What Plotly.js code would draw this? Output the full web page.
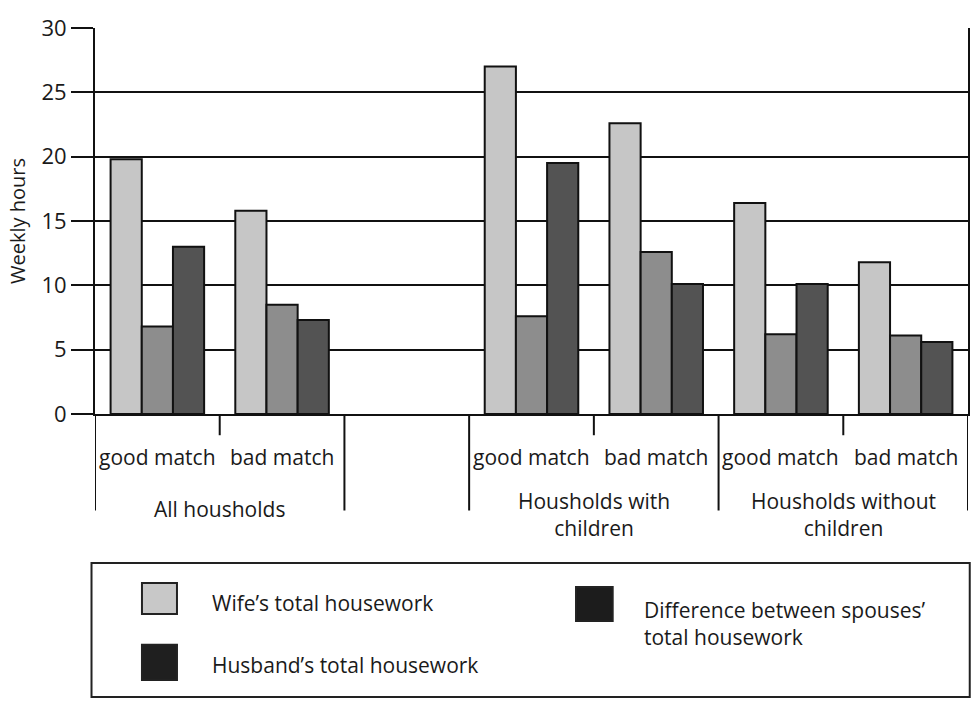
<!DOCTYPE html>
<html>
<head>
<meta charset="utf-8">
<script src="https://cdn.plot.ly/plotly-3.0.1.min.js"></script>
<style>
  html, body { margin: 0; padding: 0; background: #ffffff; }
  #chart { width: 974px; height: 710px; }
</style>
</head>
<body>
<div id="chart"></div>
<script>
// ---- data ----
const groups = ["All housholds", "Housholds with<br>children", "Housholds without<br>children"];
const matches = ["good match", "bad match"];
const seriesNames = ["Wife’s total housework", "Husband’s total housework", "Difference between spouses’<br>total housework"];
const wife = [19.8, 15.8, 27.0, 22.6, 16.4, 11.8];
const husband = [6.8, 8.5, 7.6, 12.6, 6.2, 6.1];
const difference = [13.0, 7.3, 19.5, 10.1, 10.1, 5.6];
const yTicks = [0, 5, 10, 15, 20, 25, 30];

// ---- build slot positions (one blank slot after the first group) ----
const xs = [];
const subLabels = [];
groups.forEach((g, gi) => {
  matches.forEach((m, si) => {
    xs.push(gi * 2 + si + (gi > 0 ? 1 : 0));
    subLabels.push(m);
  });
});
const groupCenters = groups.map((g, gi) => gi * 2 + 0.5 + (gi > 0 ? 1 : 0));

const FONT = "Open Sans, Noto Sans, DejaVu Sans, sans-serif";
const TXT = "#1a1a1a";
const colors = ["#c6c6c6", "#8d8d8d", "#535353"];
const legendColors = ["#c8c8c8", "#1f1f1f", "#1c1c1c"];

const traces = [wife, husband, difference].map((vals, i) => ({
  type: "bar",
  x: xs,
  y: vals,
  name: seriesNames[i],
  marker: { color: colors[i], line: { color: "#111111", width: 2 } },
  showlegend: false,
  hoverinfo: "y+name"
}));

// plot area in pixels: left 95, right 968, top 28, bottom 414
const annotations = [];
subLabels.forEach((t, i) => {
  annotations.push({
    x: xs[i], y: -0.112, xref: "x", yref: "paper",
    text: t, showarrow: false, xanchor: "center", yanchor: "middle",
    font: { family: FONT, size: 21, color: TXT }
  });
});
groups.forEach((g, gi) => {
  annotations.push({
    x: groupCenters[gi], y: gi === 0 ? -0.245 : -0.185, xref: "x", yref: "paper",
    text: g, showarrow: false, xanchor: "center", yanchor: gi === 0 ? "middle" : "top",
    align: "center",
    font: { family: FONT, size: 21, color: TXT }
  });
});

// legend texts
const legTextPos = [
  { x: 0.1317, y: -0.490 },
  { x: 0.1317, y: -0.650 },
  { x: 0.627, y: -0.544 }
];
seriesNames.forEach((n, i) => {
  annotations.push({
    x: legTextPos[i].x, y: legTextPos[i].y, xref: "paper", yref: "paper",
    text: n, showarrow: false, xanchor: "left", yanchor: "middle", align: "left",
    font: { family: FONT, size: 21, color: TXT }
  });
});

const shapes = [];
// group dividers (long) and sub-ticks (short)
const dividers = [-0.5, 1.5, 2.5, 4.5, 6.5];
dividers.forEach(d => shapes.push({
  type: "line", xref: "x", yref: "paper", x0: d, x1: d, y0: 0, y1: -0.25,
  line: { color: "#111111", width: 2 }
}));
groupCenters.forEach(c => shapes.push({
  type: "line", xref: "x", yref: "paper", x0: c, x1: c, y0: 0, y1: -0.055,
  line: { color: "#111111", width: 2 }
}));
// legend frame
shapes.push({
  type: "rect", xref: "paper", yref: "paper", x0: -0.004, x1: 1.002, y0: -0.733, y1: -0.386,
  line: { color: "#222222", width: 2 }, fillcolor: "rgba(0,0,0,0)"
});
// legend swatches
const sw = [
  { x0: 0.0538, x1: 0.0939, y0: -0.518, y1: -0.438 },
  { x0: 0.0538, x1: 0.0939, y0: -0.689, y1: -0.598 },
  { x0: 0.551, x1: 0.593, y0: -0.536, y1: -0.448 }
];
sw.forEach((s, i) => shapes.push({
  type: "rect", xref: "paper", yref: "paper", x0: s.x0, x1: s.x1, y0: s.y0, y1: s.y1,
  fillcolor: legendColors[i], line: { color: "#222222", width: 2 }
}));

const layout = {
  width: 974, height: 710,
  margin: { l: 95, r: 6, t: 28, b: 296 },
  paper_bgcolor: "#ffffff", plot_bgcolor: "#ffffff",
  barmode: "group", bargap: 0.25, bargroupgap: 0,
  showlegend: false,
  xaxis: {
    range: [-0.5, 6.5], showticklabels: false, ticks: "", showgrid: false,
    zeroline: false, showline: true, linecolor: "#111111", linewidth: 2, fixedrange: true
  },
  yaxis: {
    range: [0, 30], tickvals: yTicks, ticktext: yTicks.map(String),
    ticks: "outside", ticklen: 22, tickwidth: 2, tickcolor: "#111111",
    showgrid: true, gridcolor: "#111111", gridwidth: 2,
    zeroline: false, showline: true, linecolor: "#111111", linewidth: 2, mirror: true,
    tickfont: { family: FONT, size: 22, color: TXT },
    title: { text: "Weekly hours", standoff: 10, font: { family: FONT, size: 20, color: TXT } },
    fixedrange: true
  },
  annotations: annotations,
  shapes: shapes
};

Plotly.newPlot("chart", traces, layout, { displayModeBar: false, staticPlot: true });
</script>
</body>
</html>
